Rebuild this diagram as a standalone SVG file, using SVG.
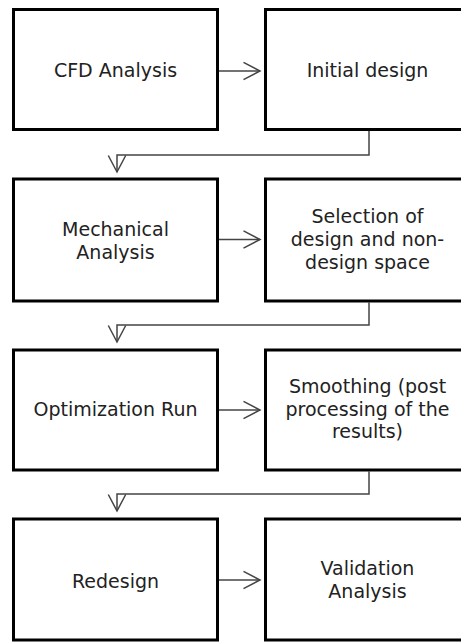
<svg xmlns="http://www.w3.org/2000/svg" width="461" height="642" viewBox="0 0 461 642">
<defs>
<marker id="arr" markerUnits="userSpaceOnUse" markerWidth="20" markerHeight="20" viewBox="-18 -10 20 20" refX="0" refY="0" orient="auto">
<path d="M-16.5 -8.7 L0 0 L-16.5 8.7" fill="none" stroke="#444" stroke-width="1.5"/>
</marker>
</defs>
<style>
.box{fill:#fff;stroke:#000;stroke-width:3}
.t{font-family:"DejaVu Sans","Liberation Sans",sans-serif;font-size:19px;fill:#222;text-anchor:middle}
.c{fill:none;stroke:#444;stroke-width:1.5;marker-end:url(#arr)}
</style>
<rect width="461" height="642" fill="#fff"/>
<g id="connectors">
<path class="c" d="M219 71 H260"/>
<path class="c" d="M219 239.5 H260"/>
<path class="c" d="M219 410 H260"/>
<path class="c" d="M219 580 H260"/>
<path class="c" d="M369 131 V155 H117 V172"/>
<path class="c" d="M369 302.5 V325 H117 V342"/>
<path class="c" d="M369 471.5 V494 H117 V511"/>
</g>
<g id="cfd"><rect class="box" x="13.5" y="9.5" width="204" height="120"/><text class="t" x="115.5" y="77">CFD Analysis</text></g>
<g id="initial"><rect class="box" x="265.5" y="9.5" width="204" height="120"/><text class="t" x="367.5" y="77">Initial design</text></g>
<g id="mech"><rect class="box" x="13.5" y="179" width="204" height="122"/><text class="t" x="115.5" y="235.7">Mechanical</text><text class="t" x="115.5" y="258.5">Analysis</text></g>
<g id="selection"><rect class="box" x="265.5" y="179" width="204" height="122"/><text class="t" x="367.5" y="223">Selection of</text><text class="t" x="367.5" y="246">design and non-</text><text class="t" x="367.5" y="269">design space</text></g>
<g id="opt"><rect class="box" x="13.5" y="350" width="204" height="120"/><text class="t" x="115.5" y="416">Optimization Run</text></g>
<g id="smooth"><rect class="box" x="265.5" y="350" width="204" height="120"/><text class="t" x="367.5" y="392.7">Smoothing (post</text><text class="t" x="367.5" y="415.5">processing of the</text><text class="t" x="367.5" y="438.3">results)</text></g>
<g id="redesign"><rect class="box" x="13.5" y="519" width="204" height="121"/><text class="t" x="115.5" y="587.7">Redesign</text></g>
<g id="validation"><rect class="box" x="265.5" y="519" width="204" height="121"/><text class="t" x="367.5" y="575">Validation</text><text class="t" x="367.5" y="597.7">Analysis</text></g>
</svg>
